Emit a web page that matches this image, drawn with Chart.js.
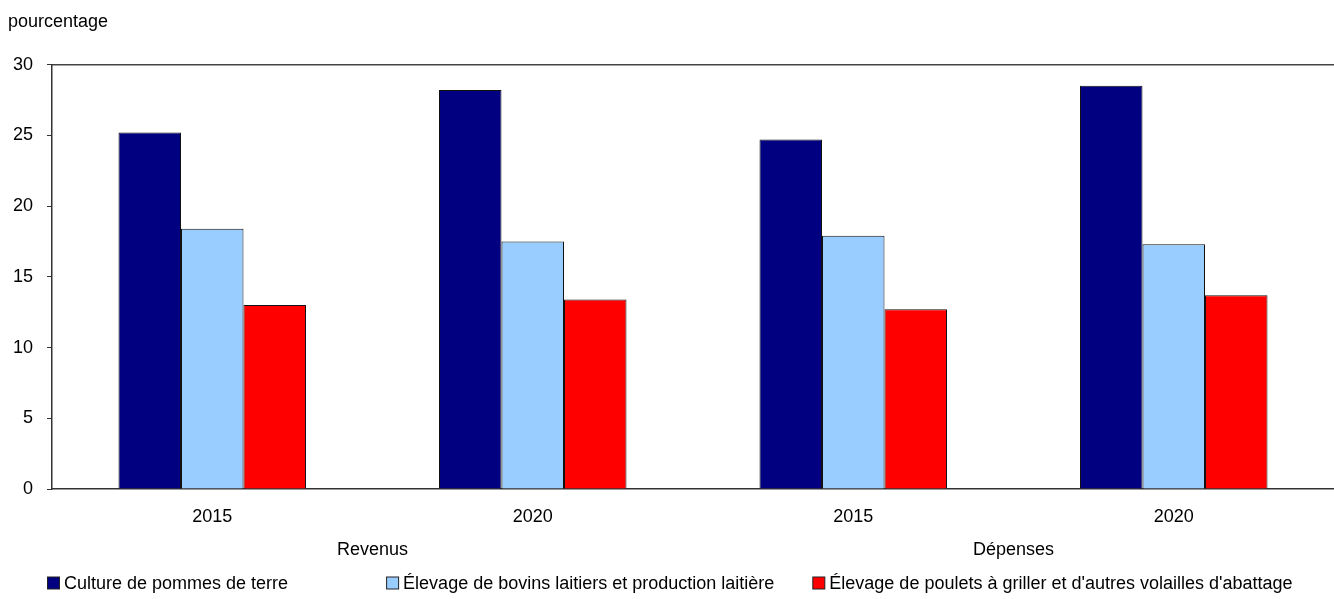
<!DOCTYPE html>
<html>
<head>
<meta charset="utf-8">
<script src="https://cdn.jsdelivr.net/npm/chart.js@4/dist/chart.umd.min.js"></script>
<style>
html,body{margin:0;padding:0;background:#fff;}
#wrap{width:1334px;height:599px;position:relative;}
</style>
</head>
<body>
<div id="wrap"><canvas id="c"></canvas></div>
<script>
const categories = ['2015', '2020', '2015', '2020'];
const groups = ['Revenus', 'Dépenses'];
const seriesNames = [
  'Culture de pommes de terre',
  'Élevage de bovins laitiers et production laitière',
  "Élevage de poulets à griller et d'autres volailles d'abattage"
];
const potatoes = [25.2, 28.2, 24.7, 28.5];
const dairy = [18.4, 17.5, 17.9, 17.3];
const poultry = [13.0, 13.4, 12.7, 13.7];
const yTicks = [0, 5, 10, 15, 20, 25, 30];
const colors = ['#000080', '#99CCFF', '#FF0000'];

const FONT = "'Liberation Sans', Arial, sans-serif";
Chart.defaults.font.family = FONT;
Chart.defaults.color = '#000';

// Bottom legend drawn in one row from the dataset labels/colours.
const rowLegend = {
  id: 'rowLegend',
  afterDraw(chart, args, opts) {
    const ctx = chart.ctx;
    const ds = chart.data.datasets;
    ctx.save();
    ctx.font = `${opts.fontSize}px ${FONT}`;
    ctx.textBaseline = 'middle';
    const box = opts.box, tgap = opts.textGap;
    let x = opts.start;
    const y = chart.height - opts.bottom;
    ds.forEach((d, i) => {
      ctx.fillStyle = d.backgroundColor;
      ctx.fillRect(x + 0.5, y - box / 2 + 0.5, box - 1, box - 1);
      ctx.strokeStyle = '#222';
      ctx.lineWidth = 1;
      ctx.strokeRect(x + 0.5, y - box / 2 + 0.5, box - 1, box - 1);
      ctx.fillStyle = '#000';
      ctx.fillText(d.label, x + box + tgap, y + 1);
      x += box + tgap + ctx.measureText(d.label).width + (opts.gaps[i] || 0);
    });
    ctx.restore();
  }
};

new Chart(document.getElementById('c'), {
  type: 'bar',
  data: {
    labels: categories,
    datasets: [potatoes, dairy, poultry].map((d, i) => ({
      label: seriesNames[i],
      data: d,
      backgroundColor: colors[i],
      borderColor: '#111',
      borderWidth: 1,
      barPercentage: 1,
      categoryPercentage: 0.585,
      xAxisID: 'x',
      yAxisID: 'y'
    }))
  },
  plugins: [rowLegend],
  options: {
    responsive: true,
    maintainAspectRatio: false,
    animation: false,
    layout: { padding: { left: 8, right: 0, top: 0, bottom: 36 } },
    plugins: {
      title: {
        display: true,
        text: 'pourcentage',
        align: 'start',
        font: { size: 18, weight: 'normal' },
        color: '#000',
        padding: { top: 11, bottom: 32 }
      },
      legend: { display: false },
      rowLegend: { fontSize: 18, box: 13, textGap: 4, start: 47, gaps: [98, 38], bottom: 16 },
      tooltip: { enabled: false }
    },
    scales: {
      x: {
        type: 'category',
        position: 'bottom',
        weight: 0,
        afterFit(axis) { axis.height = 40; },
        grid: { display: false, drawTicks: false },
        border: { display: true, color: '#333', width: 1.5 },
        ticks: { font: { size: 18 }, padding: 17, color: '#000' }
      },
      xg: {
        type: 'category',
        position: 'bottom',
        weight: 1,
        labels: groups,
        offset: true,
        afterFit(axis) { axis.height = 34; },
        grid: { display: false, drawTicks: false },
        border: { display: false },
        ticks: { font: { size: 18 }, padding: 10, color: '#000' }
      },
      xt: {
        type: 'linear',
        position: 'top',
        min: 0, max: 1,
        grid: { display: false, drawTicks: false },
        border: { display: true, color: '#444', width: 1.5 },
        ticks: { display: false }
      },
      y: {
        min: 0,
        max: 30,
        afterFit(axis) { axis.width = 44; },
        afterBuildTicks(axis) { axis.ticks = yTicks.map(v => ({ value: v })); },
        grid: { drawOnChartArea: false, drawTicks: true, tickLength: 5, color: '#333' },
        border: { display: true, color: '#333', width: 1.5 },
        ticks: { font: { size: 18 }, padding: 14, color: '#000' }
      }
    }
  }
});
</script>
</body>
</html>
